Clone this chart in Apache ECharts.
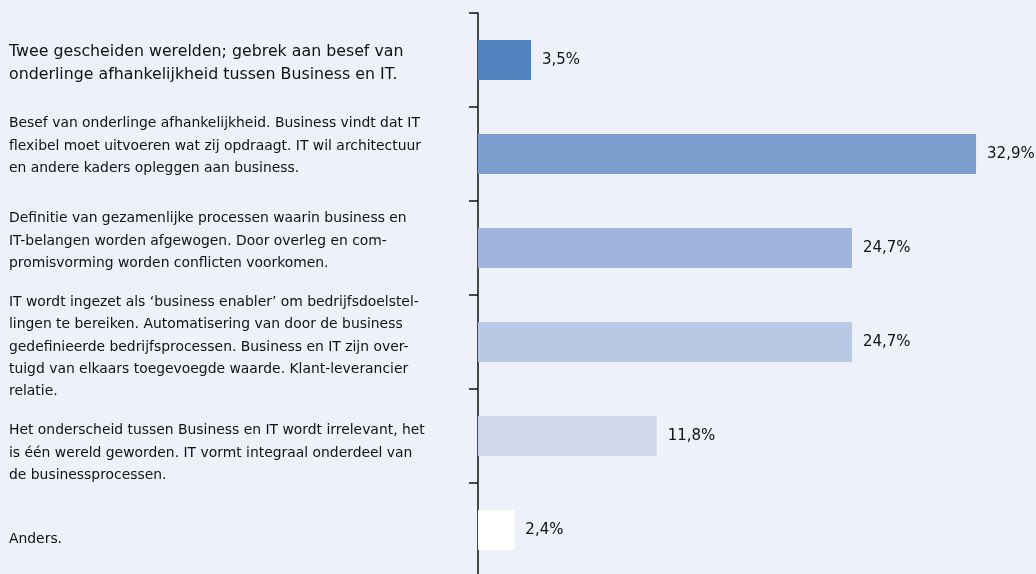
<!DOCTYPE html>
<html>
<head>
<meta charset="utf-8">
<script src="https://cdn.jsdelivr.net/npm/echarts@6/dist/echarts.min.js"></script>
<style>
html,body{margin:0;padding:0;background:#eef1f9;}
#chart{width:1036px;height:574px;}
</style>
</head>
<body>
<div id="chart"></div>
<script>
const categories = [
  "Twee gescheiden werelden; gebrek aan besef van\nonderlinge afhankelijkheid tussen Business en IT.",
  "Besef van onderlinge afhankelijkheid. Business vindt dat IT\nflexibel moet uitvoeren wat zij opdraagt. IT wil architectuur\nen andere kaders opleggen aan business.",
  "Definitie van gezamenlijke processen waarin business en\nIT-belangen worden afgewogen. Door overleg en com-\npromisvorming worden conflicten voorkomen.",
  "IT wordt ingezet als \u2018business enabler\u2019 om bedrijfsdoelstel-\nlingen te bereiken. Automatisering van door de business\ngedefinieerde bedrijfsprocessen. Business en IT zijn over-\ntuigd van elkaars toegevoegde waarde. Klant-leverancier\nrelatie.",
  "Het onderscheid tussen Business en IT wordt irrelevant, het\nis \u00e9\u00e9n wereld geworden. IT vormt integraal onderdeel van\nde businessprocessen.",
  "Anders."
];
const values = [3.5, 32.9, 24.7, 24.7, 11.8, 2.4];
const barColors = ["#5083bf", "#7b9dcd", "#a0b4dc", "#b8c8e5", "#d0d9eb", "#ffffff"];
// vertical nudges of the category labels (px; + = down)
const labelShift = [3, -8, -7, 5, 17, 9];

const rich = {
  t0: {fontSize: 15.8, lineHeight: 23, color: '#111', fontFamily: 'DejaVu Sans'},
  t1: {fontSize: 13.9, lineHeight: 22.2, color: '#111', fontFamily: 'DejaVu Sans'}
};
labelShift.forEach((d, i) => {
  rich['g' + i] = {fontSize: 1, lineHeight: Math.abs(d) * 2, height: Math.abs(d) * 2};
});

const chart = echarts.init(document.getElementById('chart'));
chart.setOption({
  backgroundColor: '#eef1f9',
  animation: false,
  grid: {left: 478, top: 13, height: 564, right: 13, containLabel: false, outerBoundsMode: 'none'},
  xAxis: {type: 'value', min: 0, max: 36, show: false, splitLine: {show: false}},
  yAxis: {
    type: 'category',
    inverse: true,
    data: categories,
    axisLine: {show: true, lineStyle: {color: '#111', width: 1.5}},
    axisTick: {show: true, length: 9, lineStyle: {color: '#111', width: 1.5}},
    axisLabel: {
      align: 'left',
      margin: 469,
      color: '#111',
      fontFamily: 'DejaVu Sans',
      fontSize: 13.9,
      formatter: (value, index) => {
        const k = index === 0 ? 't0' : 't1';
        const lines = value.split('\n').map(l => '{' + k + '|' + l + '}');
        const d = labelShift[index];
        if (d > 0) lines.unshift('{g' + index + '| }');
        else if (d < 0) lines.push('{g' + index + '| }');
        return lines.join('\n');
      },
      rich: rich
    }
  },
  series: [{
    type: 'bar',
    data: values.map((v, i) => ({value: v, itemStyle: {color: barColors[i]}})),
    barWidth: 40,
    label: {
      show: true,
      position: 'right',
      distance: 11,
      color: '#111',
      fontFamily: 'DejaVu Sans',
      fontSize: 15,
      formatter: p => p.value.toFixed(1).replace('.', ',') + '%'
    }
  }]
});
</script>
</body>
</html>
